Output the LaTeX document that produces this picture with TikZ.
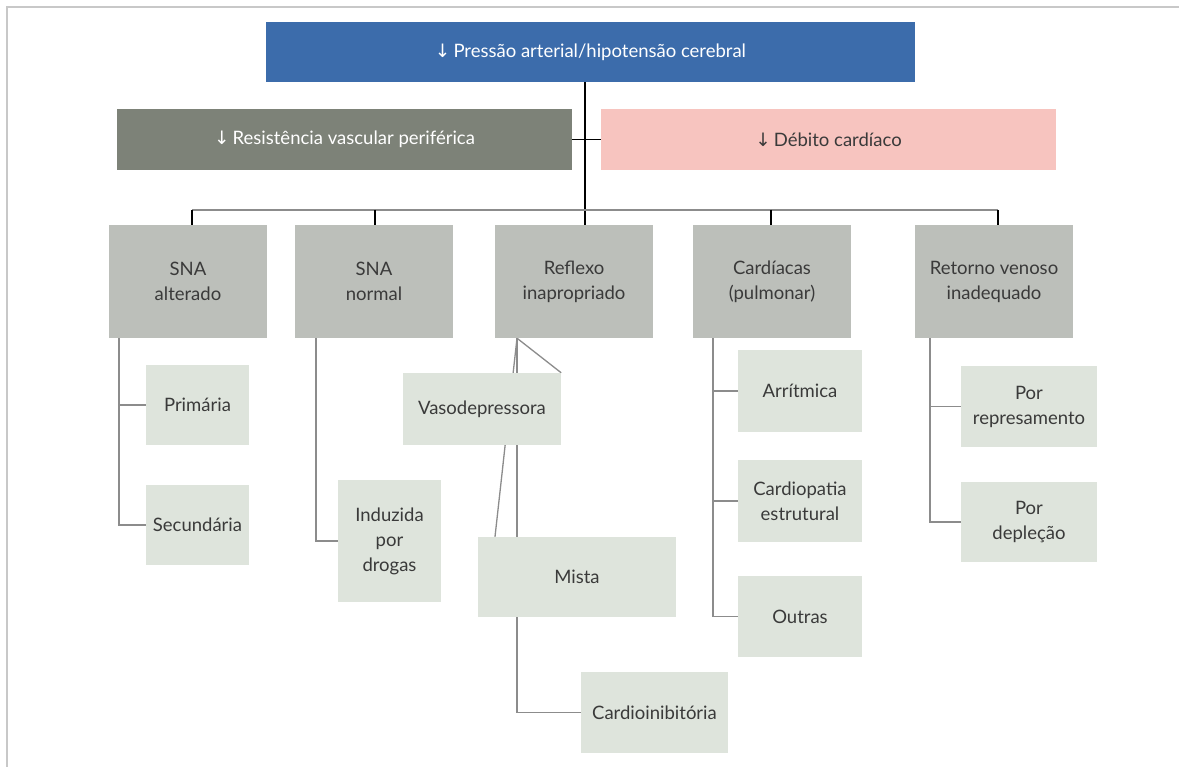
\documentclass[tikz,border=0pt]{standalone}
\usepackage{fontspec}
\setmainfont{Lato}
\newfontfamily\arrowfont{DejaVu Sans}
\usetikzlibrary{backgrounds}
\definecolor{topblue}{HTML}{3C6CAB}
\definecolor{darkgreen}{HTML}{7D8278}
\definecolor{pinkbox}{HTML}{F7C4BF}
\definecolor{midgray}{HTML}{BCBFBA}
\definecolor{paleleaf}{HTML}{DEE4DC}
\definecolor{inktext}{HTML}{3A3A3A}
\definecolor{linegray}{HTML}{8C8C8C}
\definecolor{framegray}{HTML}{C8C8C8}
\newcommand{\dn}{{\arrowfont\char"2193}\,}
\tikzset{
  box/.style={rectangle, inner sep=2pt, align=center, font=\fontsize{18.5}{25}\selectfont, text=inktext},
  headbox/.style={box, fill=topblue, text=white},
  rvpbox/.style={box, fill=darkgreen, text=white},
  dcbox/.style={box, fill=pinkbox},
  groupbox/.style={box, fill=midgray},
  leafbox/.style={box, fill=paleleaf},
  trunk/.style={draw=black, line width=1.2pt},
  branch/.style={draw=linegray, line width=1.3pt},
}
\begin{document}
\begin{tikzpicture}[x=1pt, y=-1pt]
\useasboundingbox (0,0) rectangle (1179,767);

% top level
\node[headbox, minimum width=649pt, minimum height=60pt] (top) at (590.5,52) {\dn Pressão arterial/hipotensão cerebral};
\node[rvpbox, minimum width=455pt, minimum height=61pt] (rvp) at (344.5,139.5) {\dn Resistência vascular periférica};
\node[dcbox, minimum width=455pt, minimum height=61pt] (dc) at (828.5,139.5) {\dn Débito cardíaco};

% groups
\foreach \nm/\cx/\txt in {alt/188/{SNA\\alterado}, nor/374/{SNA\\normal}, ref/574/{Reflexo\\inapropriado}, car/772/{Cardíacas\\(pulmonar)}, ret/994/{Retorno venoso\\inadequado}}
  \node[groupbox, minimum width=158pt, minimum height=113pt] (\nm) at (\cx,281.5) {\txt};

% leaves
\node[leafbox, minimum width=103pt, minimum height=80pt] (prim) at (197.5,405) {Primária};
\node[leafbox, minimum width=103pt, minimum height=80pt] (sec) at (197.5,525) {Secundária};
\node[leafbox, minimum width=103pt, minimum height=122pt] (ind) at (389.5,541) {Induzida\\por\\drogas};
\node[leafbox, minimum width=158pt, minimum height=72pt] (vaso) at (482,409) {Vasodepressora};
\node[leafbox, minimum width=198pt, minimum height=80pt] (mista) at (577,577) {Mista};
\node[leafbox, minimum width=147pt, minimum height=81pt] (cinib) at (654.5,712.5) {Cardioinibitória};
\node[leafbox, minimum width=124pt, minimum height=82pt] (arr) at (800,391) {Arrítmica};
\node[leafbox, minimum width=124pt, minimum height=82pt] (cpe) at (800,501) {Cardiopatia\\estrutural};
\node[leafbox, minimum width=124pt, minimum height=81pt] (outr) at (800,616.5) {Outras};
\node[leafbox, minimum width=136pt, minimum height=81pt] (rep) at (1029,406.5) {Por\\represamento};
\node[leafbox, minimum width=136pt, minimum height=80pt] (dep) at (1029,522) {Por\\depleção};

% anchor points for the connector layout
\coordinate (tx) at (585,0);
\coordinate (bar) at (0,210);
\coordinate (ax) at (119,0);
\coordinate (nx) at (316,0);
\coordinate (rx) at (517,0);
\coordinate (cx) at (713,0);
\coordinate (vx) at (930,0);

\begin{scope}[on background layer]
  \fill[white] (0,0) rectangle (1179,767);
  \draw[framegray, line width=1.2pt] (7,767) -- (7,7) -- (1179,7);
  % main trunk and crossing to the two mechanisms
  \draw[trunk] (top.south -| tx) -- (ref.north -| tx);
  \draw[trunk] (rvp.east) -- (dc.west);
  % distribution bar
  \draw[branch] (bar -| 192,0) -- (bar -| 998,0);
  \draw[trunk] (bar -| 192,0) -- (alt.north -| 192,0);
  \draw[trunk] (bar -| 375,0) -- (nor.north -| 375,0);
  \draw[trunk] (bar -| 771,0) -- (car.north -| 771,0);
  \draw[trunk] (bar -| 998,0) -- (ret.north -| 998,0);
  % SNA alterado
  \draw[branch] (alt.south -| ax) |- (sec.west);
  \draw[branch] (prim.west) -- (prim.west -| ax);
  % SNA normal
  \draw[branch] (nor.south -| nx) |- (ind.west);
  % Reflexo inapropriado
  \draw[branch] (ref.south -| rx) |- (cinib.west);
  \draw[branch] (ref.south -| rx) -- (vaso.north east);
  \draw[branch] (ref.south -| rx) -- (mista.north -| 495,0);
  % Cardíacas
  \draw[branch] (car.south -| cx) |- (outr.west);
  \draw[branch] (arr.west) -- (arr.west -| cx);
  \draw[branch] (cpe.west) -- (cpe.west -| cx);
  % Retorno venoso
  \draw[branch] (ret.south -| vx) |- (dep.west);
  \draw[branch] (rep.west) -- (rep.west -| vx);
\end{scope}
\end{tikzpicture}
\end{document}
